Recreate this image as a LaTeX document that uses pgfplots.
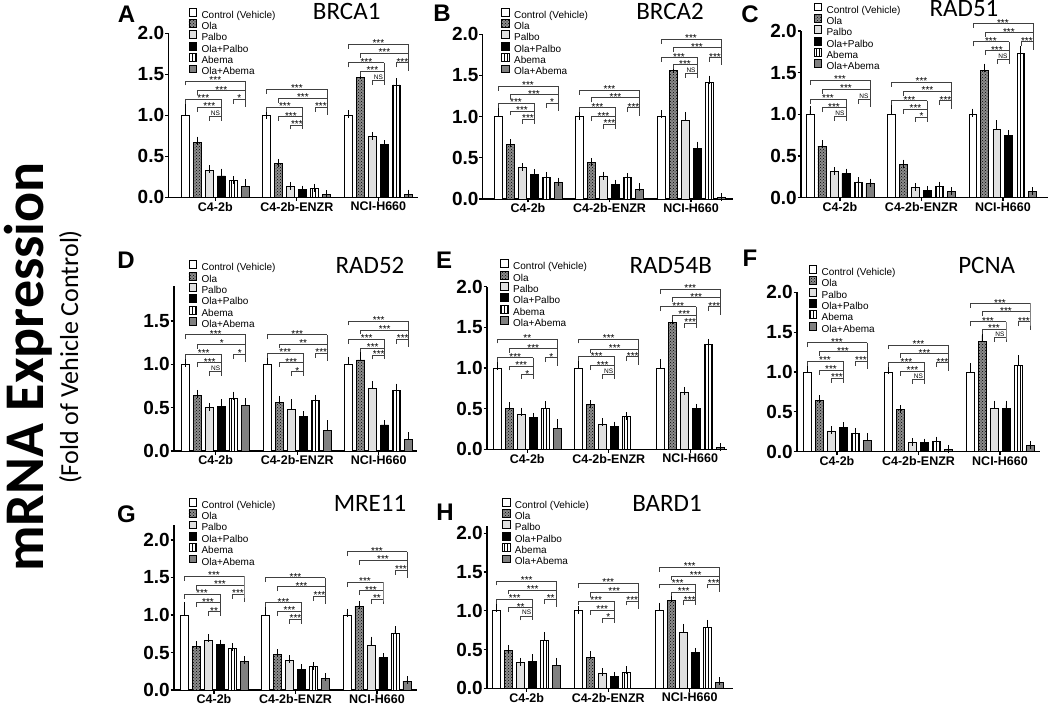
\documentclass[border=0pt]{standalone}
\usepackage{pgfplots}
\pgfplotsset{compat=1.18}
\usepackage{pgfplotstable}
\usetikzlibrary{patterns}
\usepackage{fontspec}
\setmainfont{Liberation Sans}
\newfontfamily\calibri{Carlito}

% ---------------- data (value, error) per group: 0=C4-2b, 1=C4-2b-ENZR, 2=NCI-H660
\pgfplotstableread{
g c ce o oe p pe op ope a ae oa oae
0 1.00 0.15 0.67 0.02 0.33 0.01 0.26 0.04 0.20 0.01 0.13 0.04
1 1.00 0.005 0.41 0.01 0.13 0.01 0.09 0.005 0.11 0.005 0.03 0.005
2 1.00 0.01 1.46 0.03 0.74 0.01 0.64 0.005 1.37 0.03 0.04 0.005
}\tabA
\pgfplotstableread{
g c ce o oe p pe op ope a ae oa oae
0 1.00 0.08 0.66 0.02 0.38 0.01 0.30 0.01 0.26 0.02 0.20 0.01
1 1.00 0.01 0.44 0.005 0.28 0.005 0.18 0.005 0.26 0.01 0.12 0.02
2 1.00 0.03 1.56 0.02 0.95 0.06 0.61 0.04 1.42 0.03 0.02 0.005
}\tabB
\pgfplotstableread{
g c ce o oe p pe op ope a ae oa oae
0 1.00 0.05 0.62 0.02 0.31 0.005 0.29 0.01 0.18 0.02 0.17 0.01
1 1.00 0.08 0.40 0.01 0.12 0.005 0.09 0.005 0.14 0.005 0.07 0.005
2 1.00 0.02 1.53 0.03 0.82 0.06 0.75 0.01 1.73 0.04 0.07 0.005
}\tabC
\pgfplotstableread{
g c ce o oe p pe op ope a ae oa oae
0 1.00 0.01 0.64 0.02 0.50 0.01 0.51 0.04 0.61 0.03 0.52 0.04
1 1.00 0.04 0.56 0.03 0.48 0.07 0.40 0.01 0.58 0.02 0.24 0.07
2 1.00 0.04 1.05 0.05 0.72 0.04 0.30 0.01 0.70 0.03 0.13 0.04
}\tabD
\pgfplotstableread{
g c ce o oe p pe op ope a ae oa oae
0 1.00 0.03 0.50 0.03 0.43 0.03 0.39 0.01 0.50 0.04 0.26 0.06
1 1.00 0.08 0.55 0.005 0.31 0.02 0.28 0.01 0.40 0.005 nan nan
2 1.00 0.06 1.56 0.03 0.70 0.02 0.50 0.01 1.29 0.02 0.02 0.005
}\tabE
\pgfplotstableread{
g c ce o oe p pe op ope a ae oa oae
0 1.00 0.07 0.64 0.02 0.26 0.01 0.30 0.02 0.23 0.02 0.14 0.04
1 1.00 0.02 0.53 0.005 0.11 0.01 0.11 0.005 0.13 0.01 0.03 0.005
2 1.00 0.06 1.38 0.08 0.54 0.05 0.54 0.05 1.08 0.08 0.08 0.005
}\tabF
\pgfplotstableread{
g c ce o oe p pe op ope a ae oa oae
0 1.00 0.12 0.58 0.02 0.66 0.03 0.61 0.01 0.55 0.02 0.38 0.02
1 1.00 0.05 0.48 0.01 0.40 0.01 0.28 0.01 0.31 0.01 0.16 0.01
2 1.00 0.03 1.12 0.01 0.60 0.06 0.43 0.01 0.76 0.04 0.12 0.01
}\tabG
\pgfplotstableread{
g c ce o oe p pe op ope a ae oa oae
0 1.00 0.04 0.49 0.02 0.33 0.01 0.35 0.04 0.62 0.05 0.29 0.05
1 1.00 0.01 0.40 0.03 0.19 0.02 0.15 0.01 0.21 0.02 nan nan
2 1.00 0.05 1.13 0.03 0.72 0.06 0.46 0.01 0.79 0.04 0.08 0.01
}\tabH

\pgfplotsset{
  panel/.style={
    scale only axis, anchor=south west, clip=false,
    axis x line*=bottom, axis y line*=left,
    axis line style={line width=1.4pt, black},
    ymin=0,
    xtick={0,1,2}, xticklabels={C4-2b,C4-2b-ENZR,NCI-H660},
    ytick={0,0.5,1,1.5,2}, yticklabels={0.0,0.5,1.0,1.5,2.0},
    tick align=outside, major tick length=3.5pt,
    tick style={black, line width=1.2pt},
    x tick label style={font=\fontsize{12.5}{12.5}\selectfont\bfseries, inner sep=1pt},
    y tick label style={font=\fontsize{19}{19}\selectfont\bfseries, inner sep=0.5pt},
    legend style={draw=none, fill=none, anchor=north west,
      font=\fontsize{10}{10}\selectfont, inner sep=0pt, row sep=-2.2pt,
      nodes={inner sep=0.6pt, text height=7.7pt, text depth=2.5pt}},
    legend cell align=left,
  },
  bst/.style={ybar, bar width=0.098, bar shift=0pt, draw=black, line width=0.9pt,
    legend image code/.code={\draw[##1, line width=0.9pt] (0pt,-0.4pt) rectangle (7.8pt,7.4pt); \path (11.5pt,0pt);},
    error bars/y dir=plus, error bars/y explicit,
    error bars/error bar style={black, line width=0.9pt},
    error bars/error mark options={black, line width=0.9pt, mark size=4pt}},
  sC/.style={fill=white},
  sO/.style={fill=black!45, postaction={pattern=crosshatch dots, pattern color=black}},
  sP/.style={fill=black!12},
  sOP/.style={fill=black},
  sA/.style={fill=white, postaction={pattern=vertical lines, pattern color=black}},
  sOA/.style={fill=black!50},
}
\tikzset{
  brk/.style={line width=0.7pt, black!75},
  sig/.style={font=\fontsize{10}{10}\selectfont, inner sep=0pt, anchor=base, yshift=-2.6pt},
}
\newcommand{\ns}{{\fontsize{6.5}{6.5}\selectfont\raisebox{3.6pt}{NS}}}

\newcommand{\bars}[1]{%
\addplot[bst,sC] table[x expr=\thisrow{g}-0.3681,y=c,y error=ce]{#1};\addlegendentry{Control (Vehicle)}
\addplot[bst,sO] table[x expr=\thisrow{g}-0.2209,y=o,y error=oe]{#1};\addlegendentry{Ola}
\addplot[bst,sP] table[x expr=\thisrow{g}-0.0736,y=p,y error=pe]{#1};\addlegendentry{Palbo}
\addplot[bst,sOP] table[x expr=\thisrow{g}+0.0736,y=op,y error=ope]{#1};\addlegendentry{Ola+Palbo}
\addplot[bst,sA] table[x expr=\thisrow{g}+0.2209,y=a,y error=ae]{#1};\addlegendentry{Abema}
\addplot[bst,sOA] table[x expr=\thisrow{g}+0.3681,y=oa,y error=oae]{#1};\addlegendentry{Ola+Abema}
}
% bracket: group, left bar, right bar, level, text
\newcommand{\brk}[5]{%
\draw[brk] (axis cs:{#1+(#2-2.5)*0.14724},#4) ++(0pt,-4.5pt) -- ++(0pt,4.5pt) -- (axis cs:{#1+(#3-2.5)*0.14724},#4);
\node[sig] at (axis cs:{#1+((#2+#3)/2-2.5)*0.14724},#4) {#5};
}
\def\threebrk#1#2#3#4#5,#6,#7\relax{\brk{#1}{0}{5}{#2}{#5}\brk{#1}{1}{5}{#3}{#6}\brk{#1}{0}{3}{#4}{#7}}
\def\threebrkb#1#2#3#4#5,#6,#7\relax{\brk{#1}{4}{5}{#2}{#5}\brk{#1}{1}{3}{#3}{#6}\brk{#1}{2}{3}{#4}{#7}}
% group g, L1 L2 L3a L3b L5 L6, texts(L1,L2,L3a), texts(L3b,L5,L6)
\newcommand{\grp}[9]{%
\threebrk{#1}{#2}{#3}{#4}#8\relax
\threebrkb{#1}{#5}{#6}{#7}#9\relax
\draw[brk] (axis cs:{#1+0.3681},#2) -- (axis cs:{#1+0.3681},#5) -- ++(0pt,-8pt);
\draw[brk] (axis cs:{#1+0.0736},#4) -- (axis cs:{#1+0.0736},#7) -- ++(0pt,-4.5pt);
}

\begin{document}
\begin{tikzpicture}
\useasboundingbox (0pt,0pt) rectangle (1050pt,-706pt);

% ---- A
\begin{axis}[panel, at={(168.3pt,-197.3pt)}, width=250pt, height=164pt,
  xmin=-0.577, xmax=2.490, ymax=2, legend style={at={(0.08,1.157)}}]
\bars{\tabA}
\grp{0}{1.42}{1.30}{1.195}{1.195}{1.10}{0.99}{***,***,***}{*,***,\ns}
\grp{1}{1.317}{1.207}{1.098}{1.098}{0.984}{0.882}{***,***,***}{***,***,***}
\grp{2}{1.866}{1.756}{1.64}{1.64}{1.54}{1.43}{***,***,***}{***,***,\ns}
\end{axis}
% ---- B
\begin{axis}[panel, at={(482.7pt,-199pt)}, width=250pt, height=164.6pt,
  xmin=-0.556, xmax=2.511, ymax=2, legend style={at={(0.073,1.163)}}]
\bars{\tabB}
\grp{0}{1.372}{1.27}{1.162}{1.162}{1.07}{0.97}{***,***,***}{*,***,***}
\grp{1}{1.324}{1.23}{1.11}{1.11}{1.0}{0.91}{***,***,***}{***,***,***}
\grp{2}{1.94}{1.84}{1.72}{1.72}{1.63}{1.53}{***,***,***}{***,***,\ns}
\end{axis}
% ---- C
\begin{axis}[panel, at={(801pt,-197.7pt)}, width=247pt, height=166.7pt,
  xmin=-0.478, xmax=2.553, ymax=2, legend style={at={(0.05,1.171)}}]
\bars{\tabC}
\grp{0}{1.41}{1.30}{1.18}{1.18}{1.08}{0.98}{***,***,***}{\ns,***,\ns}
\grp{1}{1.384}{1.28}{1.164}{1.164}{1.064}{0.964}{***,***,***}{***,***,*}
\grp{2}{2.09}{1.98}{1.87}{1.87}{1.764}{1.664}{***,***,***}{***,***,\ns}
\end{axis}
% ---- D
\begin{axis}[panel, at={(174pt,-451pt)}, width=243pt, height=165.3pt,
  xmin=-0.512, xmax=2.470, ymax=1.907, ytick={0,0.5,1,1.5}, yticklabels={0.0,0.5,1.0,1.5},
  legend style={at={(0.059,1.154)}}]
\bars{\tabD}
\grp{0}{1.34}{1.23}{1.115}{1.115}{1.02}{0.92}{***,*,***}{*,***,\ns}
\grp{1}{1.34}{1.235}{1.127}{1.127}{1.02}{0.915}{***,**,***}{***,***,*}
\grp{2}{1.50}{1.396}{1.29}{1.29}{1.19}{1.108}{***,***,***}{***,***,***}
\end{axis}
% ---- E
\begin{axis}[panel, at={(487pt,-449.3pt)}, width=240pt, height=162.6pt,
  xmin=-0.494, xmax=2.451, ymax=2, legend style={at={(0.054,1.169)}}]
\bars{\tabE}
\grp{0}{1.357}{1.24}{1.127}{1.127}{1.025}{0.92}{**,***,***}{*,***,*}
\grp{1}{1.357}{1.234}{1.14}{1.14}{1.03}{0.92}{***,***,***}{***,***,\ns}
\grp{2}{1.97}{1.865}{1.754}{1.754}{1.65}{1.55}{***,***,***}{***,***,***}
\end{axis}
% ---- F
\begin{axis}[panel, at={(797pt,-451.7pt)}, width=243pt, height=159.4pt,
  xmin=-0.491, xmax=2.491, ymax=2, legend style={at={(0.047,1.172)}}]
\bars{\tabF}
\grp{0}{1.368}{1.255}{1.138}{1.138}{1.025}{0.92}{***,***,***}{***,***,***}
\grp{1}{1.34}{1.23}{1.117}{1.117}{1.01}{0.91}{***,***,***}{***,***,\ns}
\grp{2}{1.86}{1.757}{1.63}{1.63}{1.536}{1.435}{***,***,***}{***,***,\ns}
\end{axis}
% ---- G
\begin{axis}[panel, at={(174pt,-690pt)}, width=243pt, height=165pt,
  xmin=-0.491, xmax=2.491, ymax=2.2, legend style={at={(0.059,1.166)}}]
\bars{\tabG}
\grp{0}{1.52}{1.40}{1.276}{1.276}{1.164}{1.044}{***,***,***}{***,***,**}
\grp{1}{1.498}{1.378}{1.164}{1.253}{1.053}{0.942}{***,***,***}{***,***,***}
\grp{2}{1.844}{1.733}{1.436}{1.6}{1.324}{1.21}{***,***,***}{***,***,**}
\end{axis}
% ---- H
\begin{axis}[panel, at={(487pt,-688.3pt)}, width=246pt, height=162.75pt,
  xmin=-0.487, xmax=2.531, ymax=2.1, legend style={at={(0.06,1.172)}}]
\bars{\tabH}
\grp{0}{1.385}{1.27}{1.148}{1.148}{1.04}{0.933}{***,***,***}{**,**,\ns}
\grp{1}{1.355}{1.239}{1.127}{1.127}{1.01}{0.903}{***,***,***}{***,***,*}
\grp{2}{1.561}{1.45}{1.346}{1.346}{1.243}{1.13}{***,***,***}{***,***,***}
\end{axis}

% panel letters
\begin{scope}[every node/.style={font=\fontsize{24}{24}\selectfont\bfseries, inner sep=0pt}]
\node at (126.5pt,-14pt) {A};
\node at (442pt,-13pt) {B};
\node at (750pt,-14pt) {C};
\node at (126pt,-260pt) {D};
\node at (444pt,-260pt) {E};
\node at (750pt,-258pt) {F};
\node at (126.5pt,-514pt) {G};
\node at (445pt,-512pt) {H};
\end{scope}
% gene titles
\begin{scope}[every node/.style={font=\calibri\fontsize{25}{25}\selectfont, inner sep=0pt}]
\node at (346.7pt,-11pt) {BRCA1};
\node at (670pt,-11pt) {BRCA2};
\node at (964pt,-9pt) {RAD51};
\node at (370pt,-265.5pt) {RAD52};
\node at (670.7pt,-265.5pt) {RAD54B};
\node at (986.7pt,-265pt) {PCNA};
\node at (370pt,-503pt) {MRE11};
\node at (667pt,-503pt) {BARD1};
\end{scope}
% common y label
\node[rotate=90, anchor=base, inner sep=0pt, font=\calibri\bfseries\fontsize{56}{56}\selectfont] at (43pt,-367pt) {mRNA Expression};
\node[rotate=90, anchor=base, inner sep=0pt, font=\calibri\fontsize{26}{26}\selectfont] at (78pt,-357pt) {(Fold of Vehicle Control)};
\end{tikzpicture}
\end{document}
